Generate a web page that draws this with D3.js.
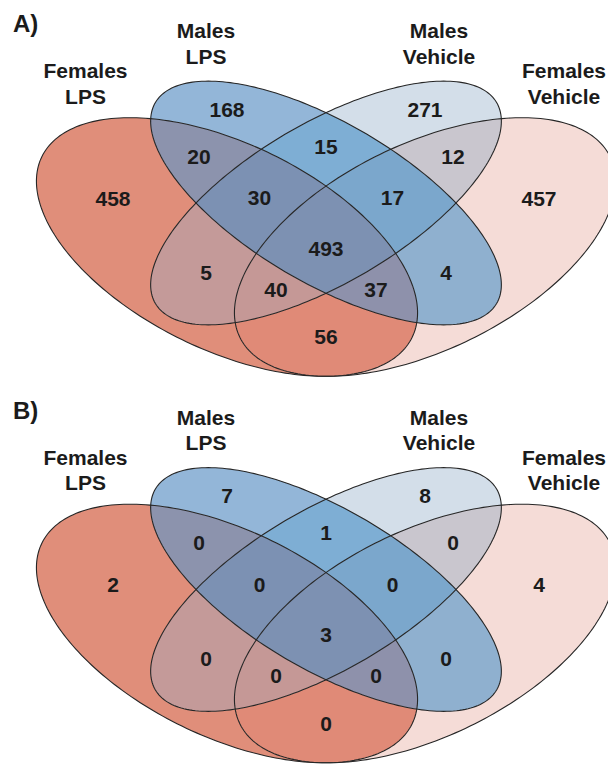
<!DOCTYPE html>
<html>
<head>
<meta charset="utf-8">
<script src="https://cdn.jsdelivr.net/npm/d3@7"></script>
<style>
  html, body { margin: 0; padding: 0; background: #ffffff; }
  svg { display: block; }
  text { font-family: "Liberation Sans", Arial, Helvetica, sans-serif; font-weight: bold; fill: #1b1b1b; }
</style>
</head>
<body>
<svg id="chart" width="608" height="764"></svg>
<script>
// ---- data -------------------------------------------------------------
// Sets in order: Females LPS, Males LPS, Males Vehicle, Females Vehicle
const setNames = [["Females", "LPS"], ["Males", "LPS"], ["Males", "Vehicle"], ["Females", "Vehicle"]];
// One flag per set (FL, ML, MV, FV) for each of the 15 regions
const regionKeys = ["1000", "0100", "0010", "0001", "1100", "0110", "0011", "1010",
                    "0101", "1001", "1110", "0111", "1011", "1101", "1111"];
const panelTags = ["A)", "B)"];
const countsA = [458, 168, 271, 457, 20, 15, 12, 5, 4, 56, 30, 17, 40, 37, 493];
const countsB = [2, 7, 8, 4, 0, 1, 0, 0, 0, 0, 0, 0, 0, 0, 3];
const panelCounts = [countsA, countsB];

// ---- layout (diagram units, 1 unit = 100 px, origin at the diagram centre) ----
const ellipses = [
  { cx: -0.99, cy: 0.44, a: 2.06, b: 1.03, rot: 26 },
  { cx: 0,     cy: 0,    a: 1.98, b: 0.80, rot: 30.5 },
  { cx: 0,     cy: 0,    a: 1.98, b: 0.80, rot: -30.5 },
  { cx: 0.99,  cy: 0.44, a: 2.06, b: 1.03, rot: -26 }
];
const regionAnchors = {
  "1000": [-2.13, -0.05], "0100": [-0.99, -0.94], "0010": [0.99, -0.94], "0001": [2.13, -0.05],
  "1100": [-1.27, -0.47], "0110": [0, -0.57],     "0011": [1.27, -0.47],
  "1010": [-1.20, 0.69],  "0101": [1.20, 0.69],   "1001": [0, 1.335],
  "1110": [-0.665, -0.055], "0111": [0.665, -0.055],
  "1011": [-0.50, 0.86],  "1101": [0.50, 0.86],   "1111": [0, 0.45]
};
const regionFill = {
  "1000": "#e08e7a", "0100": "#93b6d8", "0010": "#d3dee9", "0001": "#f5dcd7",
  "1100": "#8c93ad", "0110": "#7eaed4", "0011": "#c9c6ce", "1010": "#c49a99",
  "0101": "#8fb0cf", "1001": "#e08a77", "1110": "#7c91b3", "0111": "#7ba7cc",
  "1011": "#c59896", "1101": "#8e91ab", "1111": "#7d91b2"
};
const setLabelPos = [
  { x: -2.405, y: -1.25 }, { x: -1.20, y: -1.65 }, { x: 1.13, y: -1.65 }, { x: 2.38, y: -1.25 }
];
const tagPos = { x: -3.13, y: -1.71 };
const panelCentreY = [203, 589.5];

const W = 608, H = 764;
const svg = d3.select("#chart");
const defs = svg.append("defs");

const x = d3.scaleLinear().domain([0, 1]).range([326, 426]);

function ellipsePoints(e) {
  const r = e.rot * Math.PI / 180;
  return d3.range(0, 361, 1.5).map(deg => {
    const t = deg * Math.PI / 180;
    const ex = e.a * Math.cos(t), ey = e.b * Math.sin(t);
    return [e.cx + ex * Math.cos(r) - ey * Math.sin(r),
            e.cy + ex * Math.sin(r) + ey * Math.cos(r)];
  });
}

panelTags.forEach((tag, p) => {
  const y = d3.scaleLinear().domain([0, 1]).range([panelCentreY[p], panelCentreY[p] + 100]);
  const line = d3.line().x(d => x(d[0])).y(d => y(d[1])).curve(d3.curveLinearClosed);
  const paths = ellipses.map(e => line(ellipsePoints(e)));

  // clip path per set
  paths.forEach((d, i) => {
    defs.append("clipPath").attr("id", `clip-${p}-${i}`).append("path").attr("d", d);
  });

  const g = svg.append("g").attr("class", `panel-${p}`);

  // filled regions: inside the flagged sets, outside the others
  regionKeys.forEach(key => {
    const inside = [], outside = [];
    key.split("").forEach((f, i) => (f === "1" ? inside : outside).push(i));

    const maskId = `mask-${p}-${key}`;
    const mask = defs.append("mask").attr("id", maskId)
      .attr("maskUnits", "userSpaceOnUse")
      .attr("x", 0).attr("y", 0).attr("width", W).attr("height", H);
    mask.append("rect").attr("width", W).attr("height", H).attr("fill", "#fff");
    outside.forEach(i => mask.append("path").attr("d", paths[i]).attr("fill", "#000"));

    let holder = g;
    inside.forEach(i => { holder = holder.append("g").attr("clip-path", `url(#clip-${p}-${i})`); });
    holder.append("rect")
      .attr("width", W).attr("height", H)
      .attr("fill", regionFill[key])
      .attr("mask", `url(#${maskId})`);
  });

  // outlines
  g.selectAll("path.outline").data(paths).join("path")
    .attr("class", "outline")
    .attr("d", d => d)
    .attr("fill", "none")
    .attr("stroke", "#262626")
    .attr("stroke-width", 1.1);

  // region counts
  const counts = panelCounts[p];
  g.selectAll("text.count").data(regionKeys).join("text")
    .attr("class", "count")
    .attr("x", k => x(regionAnchors[k][0]))
    .attr("y", k => y(regionAnchors[k][1]))
    .attr("dy", "0.36em")
    .attr("text-anchor", "middle")
    .attr("font-size", 21)
    .text((k, i) => counts[i]);

  // set names
  setNames.forEach((lines, i) => {
    const t = g.append("text")
      .attr("text-anchor", "middle")
      .attr("font-size", 21);
    lines.forEach((s, j) => {
      t.append("tspan")
        .attr("x", x(setLabelPos[i].x))
        .attr("y", y(setLabelPos[i].y + j * 0.255))
        .text(s);
    });
  });

  // panel tag
  g.append("text")
    .attr("x", x(tagPos.x))
    .attr("y", y(tagPos.y))
    .attr("font-size", 24)
    .text(tag);
});
</script>
</body>
</html>
